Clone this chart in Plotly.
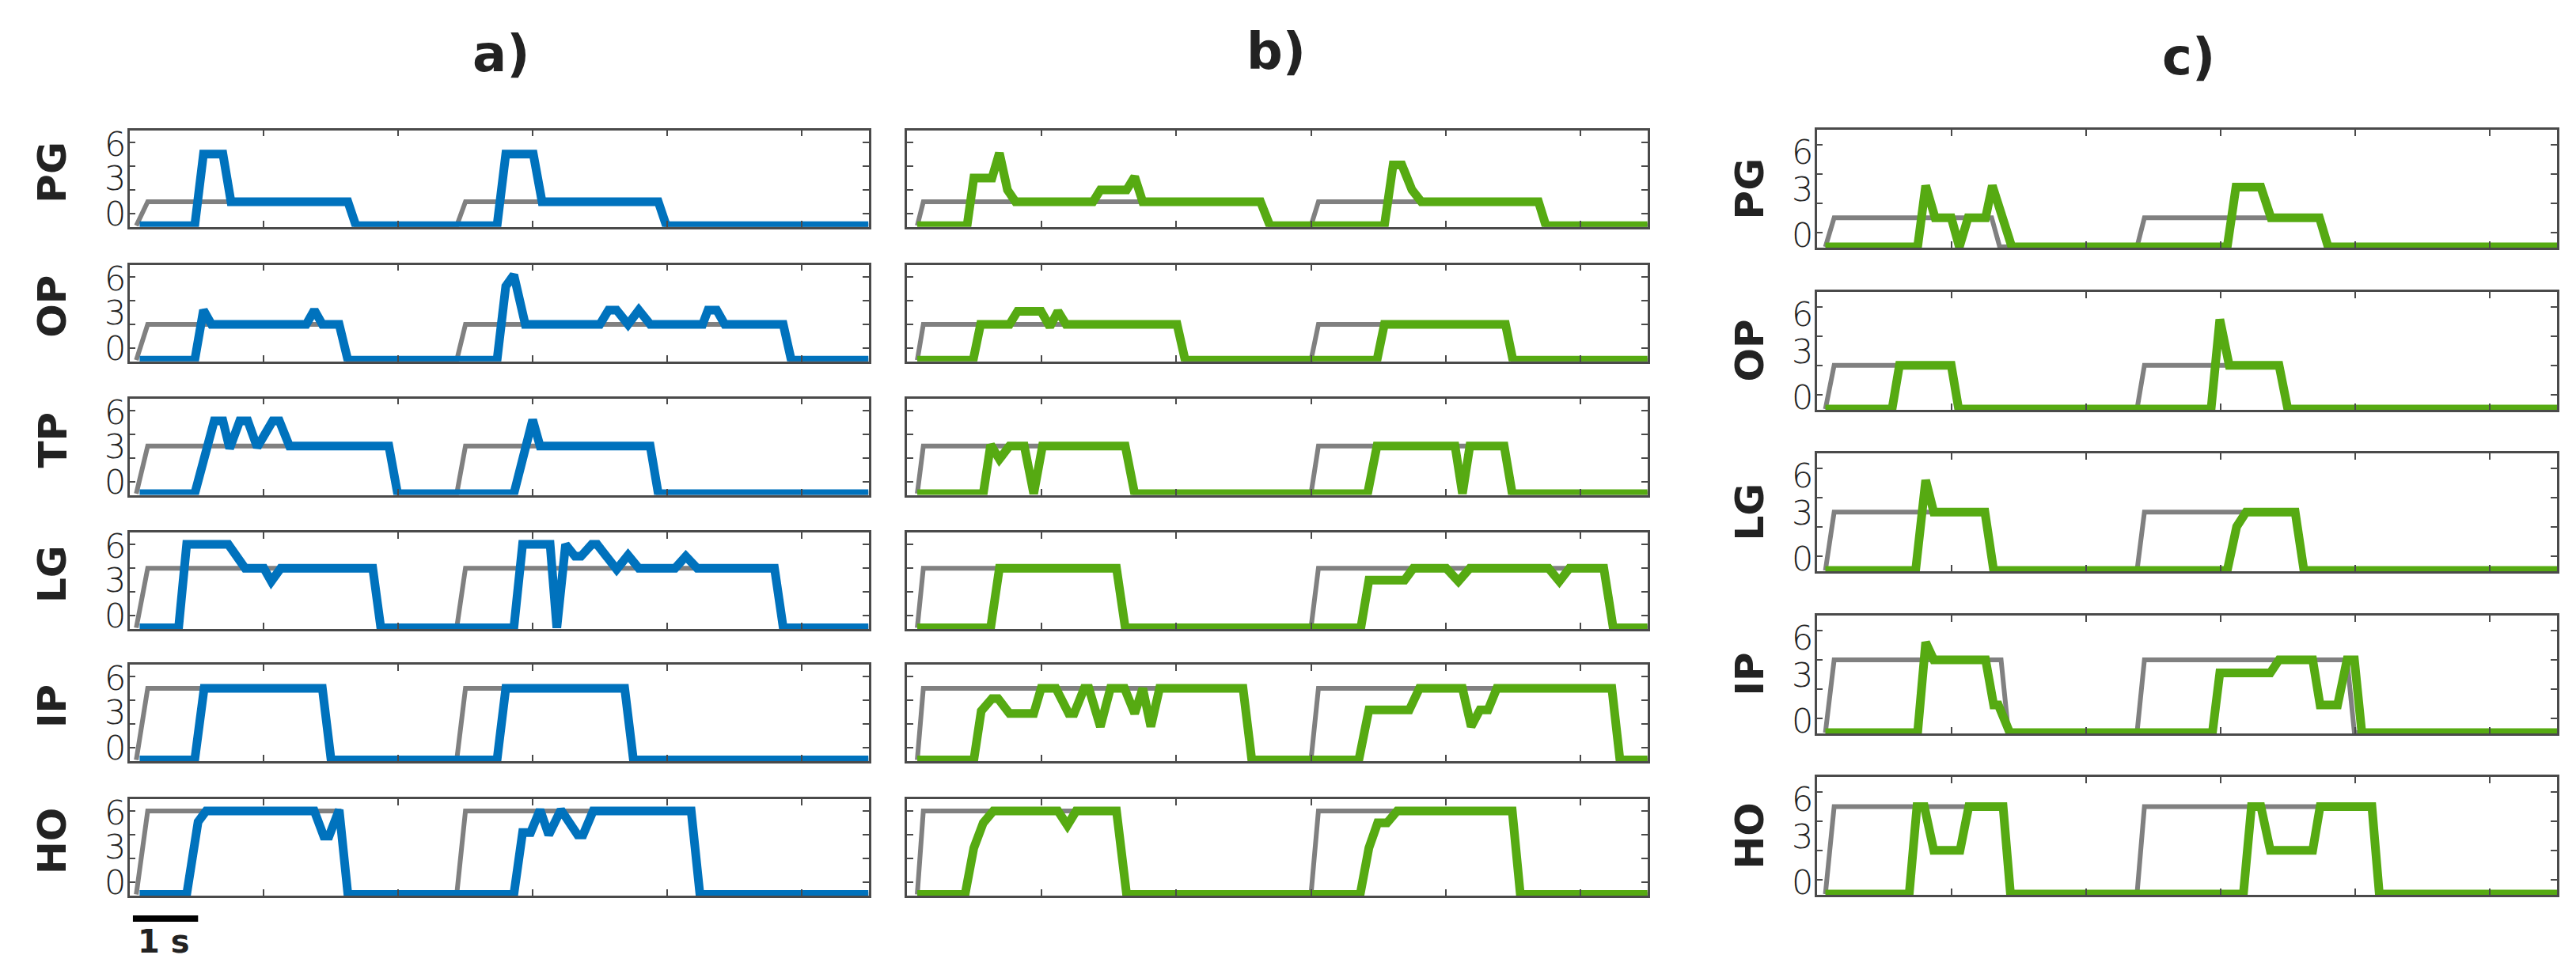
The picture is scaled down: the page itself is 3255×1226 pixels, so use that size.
import plotly.graph_objects as go

# figure size in pixels
W, H = 3255, 1226

# row names per column
rows_ab = ["PG", "OP", "TP", "LG", "IP", "HO"]
rows_c = ["PG", "OP", "LG", "IP", "HO"]
col_titles = ["a)", "b)", "c)"]
y_tick_text = ["0", "3", "6"]
x_ticks = [0, 2, 4, 6, 8, 10]
y_ticks = [0, 2, 4, 6]

# ---------------- column a (blue) ----------------
a_pg_t = [0.15, 0.97, 1.1, 1.39, 1.51, 3.25, 3.37, 5.47, 5.6, 6.01, 6.14, 7.87, 7.99, 11]
a_pg_v = [-1, -1, 5, 5, 1, 1, -1, -1, 5, 5, 1, 1, -1, -1]
a_op_t = [0.15, 0.97, 1.1, 1.22, 2.63, 2.75, 2.87, 3.12, 3.25, 5.47, 5.6, 5.72, 5.89, 7.0, 7.13,
          7.25, 7.42, 7.58, 7.75, 8.53, 8.61, 8.74, 8.86, 9.73, 9.85, 11]
a_op_v = [-1, -1, 3.2, 2, 2, 3.2, 2, 2, -1, -1, 5.2, 6.15, 2, 2, 3.2,
          3.2, 2, 3.2, 2, 2, 3.2, 3.2, 2, 2, -1, -1]
a_tp_t = [0.15, 0.97, 1.26, 1.39, 1.49, 1.64, 1.76, 1.9, 2.13, 2.23, 2.38, 3.86, 3.99, 5.72, 6.0,
          6.11, 7.75, 7.87, 11]
a_tp_v = [-1, -1, 5.1, 5.1, 2.8, 5.1, 5.1, 2.9, 5.1, 5.1, 3, 3, -1, -1, 5.2, 3, 3, -1, -1]
a_lg_t = [0.15, 0.73, 0.85, 1.47, 1.72, 2.0, 2.11, 2.25, 3.62, 3.74, 5.72, 5.85, 6.26, 6.36, 6.49,
          6.63, 6.72, 6.88, 6.96, 7.25, 7.42, 7.58, 8.12, 8.28, 8.45, 9.6, 9.73, 11]
a_lg_v = [-1, -1, 6, 6, 4, 4, 2.9, 4, 4, -1, -1, 6, 6, -1, 6,
          5, 5, 6, 6, 3.9, 5.1, 4, 4, 5, 4, 4, -1, -1]
a_ip_t = [0.15, 0.97, 1.11, 2.87, 3.0, 5.47, 5.6, 7.37, 7.5, 11]
a_ip_v = [-1, -1, 5, 5, -1, -1, 5, 5, -1, -1]
a_ho_t = [0.15, 0.85, 1.02, 1.14, 2.75, 2.89, 2.97, 3.12, 3.25, 5.72, 5.85, 5.97, 6.11, 6.24, 6.42,
          6.67, 6.75, 6.9, 8.36, 8.49, 11]
a_ho_v = [-1, -1, 5.1, 6, 6, 3.9, 3.9, 6.1, -1, -1, 4.2, 4.2, 6.1, 4, 6.1, 4, 4, 6, 6, -1, -1]

# reference (gray) signals, column a
a_pg_gt = [0.1, 0.27, 3.25, 3.37, 4.87, 5.0, 7.87, 7.99, 11]
a_pg_gv = [-1, 1, 1, -1, -1, 1, 1, -1, -1]
a_op_gt = [0.1, 0.27, 3.12, 3.25, 4.87, 5.0, 9.73, 9.85, 11]
a_op_gv = [-1, 2, 2, -1, -1, 2, 2, -1, -1]
a_tp_gt = [0.1, 0.27, 3.86, 3.99, 4.87, 5.0, 7.75, 7.87, 11]
a_tp_gv = [-1, 3, 3, -1, -1, 3, 3, -1, -1]
a_lg_gt = [0.1, 0.27, 3.62, 3.74, 4.87, 5.0, 9.6, 9.73, 11]
a_lg_gv = [-1, 4, 4, -1, -1, 4, 4, -1, -1]
a_ip_gt = [0.1, 0.27, 2.87, 3.0, 4.87, 5.0, 7.37, 7.5, 11]
a_ip_gv = [-1, 5, 5, -1, -1, 5, 5, -1, -1]
a_ho_gt = [0.1, 0.27, 3.12, 3.25, 4.87, 5.0, 8.36, 8.49, 11]
a_ho_gv = [-1, 6, 6, -1, -1, 6, 6, -1, -1]

# ---------------- column b (green) ----------------
b_pg_t = [0.15, 0.89, 0.99, 1.26, 1.37, 1.49, 1.61, 2.76, 2.87, 3.26, 3.38, 3.5, 5.25, 5.39, 7.09,
          7.22, 7.35, 7.5, 7.64, 9.38, 9.49, 11]
b_pg_v = [-1, -1, 3, 3, 5.1, 2, 1, 1, 2, 2, 3.1, 1, 1, -1, -1, 4.1, 4.1, 2, 1, 1, -1, -1]
b_op_t = [0.15, 0.98, 1.09, 1.52, 1.64, 1.99, 2.12, 2.24, 2.36, 4.01, 4.13, 6.98, 7.09, 8.89, 9.0, 11]
b_op_v = [-1, -1, 2, 2, 3.1, 3.1, 1.8, 3.1, 2, 2, -1, -1, 2, 2, -1, -1]
b_tp_t = [0.15, 1.13, 1.24, 1.37, 1.52, 1.74, 1.88, 2.01, 3.24, 3.38, 6.84, 6.98, 8.14, 8.25, 8.36,
          8.87, 8.99, 11]
b_tp_v = [-1, -1, 3.1, 1.9, 3, 3, -1, 3, 3, -1, -1, 3, 3, -1, 3, 3, -1, -1]
b_lg_t = [0.15, 1.24, 1.37, 3.11, 3.24, 6.74, 6.86, 7.39, 7.52, 8.01, 8.19, 8.36, 9.53, 9.69, 9.84,
          10.35, 10.49, 11]
b_lg_v = [-1, -1, 4, 4, -1, -1, 3, 3, 4, 4, 2.9, 4, 4, 2.9, 4, 4, -1, -1]
b_ip_t = [0.15, 0.99, 1.1, 1.26, 1.35, 1.52, 1.88, 1.99, 2.21, 2.4, 2.48, 2.63, 2.7, 2.87, 3.02,
          3.23, 3.38, 3.5, 3.62, 3.75, 4.99, 5.12, 6.71, 6.86, 7.46, 7.61, 8.25, 8.38, 8.51, 8.63,
          8.76, 10.47, 10.59, 11]
b_ip_v = [-1, -1, 3.1, 4.15, 4.15, 2.9, 2.9, 5, 5, 2.9, 2.9, 5, 5, 1.8, 5,
          5, 2.9, 5, 1.8, 5, 5, -1, -1, 3.2, 3.2, 5, 5, 1.8, 3.2, 3.2,
          5, 5, -1, -1]
b_ho_t = [0.15, 0.86, 0.99, 1.13, 1.28, 2.24, 2.38, 2.51, 3.11, 3.26, 6.73, 6.86, 6.99, 7.13, 7.28,
          8.99, 9.11, 11]
b_ho_v = [-1, -1, 2.9, 5, 6, 6, 4.8, 6, 6, -1, -1, 2.9, 5, 5, 6, 6, -1, -1]

# reference (gray) signals, column b
b_pg_gt = [0.15, 0.24, 5.25, 5.39, 6.0, 6.11, 9.38, 9.49, 11]
b_pg_gv = [-1, 1, 1, -1, -1, 1, 1, -1, -1]
b_op_gt = [0.15, 0.24, 4.01, 4.13, 6.0, 6.11, 8.89, 9.0, 11]
b_op_gv = [-1, 2, 2, -1, -1, 2, 2, -1, -1]
b_tp_gt = [0.15, 0.24, 3.24, 3.38, 6.0, 6.11, 8.87, 8.99, 11]
b_tp_gv = [-1, 3, 3, -1, -1, 3, 3, -1, -1]
b_lg_gt = [0.15, 0.24, 3.11, 3.24, 6.0, 6.11, 10.35, 10.49, 11]
b_lg_gv = [-1, 4, 4, -1, -1, 4, 4, -1, -1]
b_ip_gt = [0.15, 0.24, 4.99, 5.12, 6.0, 6.11, 10.47, 10.59, 11]
b_ip_gv = [-1, 5, 5, -1, -1, 5, 5, -1, -1]
b_ho_gt = [0.15, 0.24, 3.11, 3.26, 6.0, 6.11, 8.99, 9.11, 11]
b_ho_gv = [-1, 6, 6, -1, -1, 6, 6, -1, -1]

# ---------------- column c (green) ----------------
c_pg_t = [0.13, 1.5, 1.62, 1.76, 2.0, 2.12, 2.25, 2.51, 2.61, 2.9, 6.1, 6.23, 6.6, 6.75, 7.47, 7.6, 11]
c_pg_v = [-1, -1, 3.2, 1, 1, -1, 1, 1, 3.2, -1, -1, 3.1, 3.1, 1, 1, -1, -1]
c_op_t = [0.13, 1.12, 1.23, 2.0, 2.11, 5.86, 5.99, 6.13, 6.87, 7.0, 11]
c_op_v = [-1, -1, 2, 2, -1, -1, 5.15, 2, 2, -1, -1]
c_lg_t = [0.13, 1.47, 1.62, 1.74, 2.5, 2.63, 6.1, 6.24, 6.38, 7.11, 7.24, 11]
c_lg_v = [-1, -1, 5.2, 3, 3, -1, -1, 2, 3, 3, -1, -1]
c_ip_t = [0.13, 1.5, 1.62, 1.74, 2.51, 2.63, 2.7, 2.87, 5.88, 5.99, 6.74, 6.87, 7.37, 7.48, 7.74,
          7.88, 7.99, 8.1, 11]
c_ip_v = [-1, -1, 5.2, 4, 4, 0.9, 0.9, -1, -1, 3.1, 3.1, 4, 4, 0.9, 0.9, 4, 4, -1, -1]
c_ho_t = [0.13, 1.375, 1.49, 1.6, 1.74, 2.13, 2.26, 2.77, 2.88, 6.34, 6.46, 6.6, 6.74, 7.37, 7.48,
          8.25, 8.36, 11]
c_ho_v = [-1, -1, 5, 5, 2, 2, 5, 5, -1, -1, 5, 5, 2, 2, 5, 5, -1, -1]

# reference (gray) signals, column c
c_pg_gt = [0.13, 0.26, 2.6, 2.72, 4.76, 4.87, 7.47, 7.6, 11]
c_pg_gv = [-1, 1, 1, -1, -1, 1, 1, -1, -1]
c_op_gt = [0.13, 0.26, 2.0, 2.11, 4.76, 4.87, 6.87, 7.0, 11]
c_op_gv = [-1, 2, 2, -1, -1, 2, 2, -1, -1]
c_lg_gt = [0.13, 0.26, 2.5, 2.63, 4.76, 4.87, 7.11, 7.24, 11]
c_lg_gv = [-1, 3, 3, -1, -1, 3, 3, -1, -1]
c_ip_gt = [0.13, 0.26, 2.74, 2.85, 4.76, 4.87, 7.88, 7.99, 11]
c_ip_gv = [-1, 4, 4, -1, -1, 4, 4, -1, -1]
c_ho_gt = [0.13, 0.26, 2.77, 2.88, 4.76, 4.87, 8.25, 8.36, 11]
c_ho_gv = [-1, 5, 5, -1, -1, 5, 5, -1, -1]

BLUE = "#0072BD"
GREEN = "#56AA12"
GRAY = "#808080"
FRAME = "#4a4a4a"

panels_a = [(a_pg_gt, a_pg_gv, a_pg_t, a_pg_v), (a_op_gt, a_op_gv, a_op_t, a_op_v),
            (a_tp_gt, a_tp_gv, a_tp_t, a_tp_v), (a_lg_gt, a_lg_gv, a_lg_t, a_lg_v),
            (a_ip_gt, a_ip_gv, a_ip_t, a_ip_v), (a_ho_gt, a_ho_gv, a_ho_t, a_ho_v)]
panels_b = [(b_pg_gt, b_pg_gv, b_pg_t, b_pg_v), (b_op_gt, b_op_gv, b_op_t, b_op_v),
            (b_tp_gt, b_tp_gv, b_tp_t, b_tp_v), (b_lg_gt, b_lg_gv, b_lg_t, b_lg_v),
            (b_ip_gt, b_ip_gv, b_ip_t, b_ip_v), (b_ho_gt, b_ho_gv, b_ho_t, b_ho_v)]
panels_c = [(c_pg_gt, c_pg_gv, c_pg_t, c_pg_v), (c_op_gt, c_op_gv, c_op_t, c_op_v),
            (c_lg_gt, c_lg_gv, c_lg_t, c_lg_v), (c_ip_gt, c_ip_gv, c_ip_t, c_ip_v),
            (c_ho_gt, c_ho_gv, c_ho_t, c_ho_v)]

# pixel geometry of the panels
col_x = [(155.7, 1089.5), (1138.3, 2073.8), (2287.5, 3223.0)]
tops_ab = [156.7, 326.7, 495.5, 665.0, 832.0, 1002.0]
h_ab = 122.0
tops_c = [156.0, 361.0, 565.0, 770.0, 974.0]
h_c = 149.0


def px_x(p):
    return p / W


def px_y(p):
    return 1 - p / H


fig = go.Figure()
annotations = []
shapes = []
k = 0

columns = [
    (panels_a, rows_ab, tops_ab, h_ab, BLUE, [-1.1, 7.0], [0, 3, 5.85], True),
    (panels_b, rows_ab, tops_ab, h_ab, GREEN, [-1.1, 7.0], None, False),
    (panels_c, rows_c, tops_c, h_c, GREEN, [-1.05, 7.03], [-0.2, 2.95, 5.5], True),
]

for ci, (panels, names, tops, hh, color, yr, lab_pos, show_labels) in enumerate(columns):
    x0, x1 = col_x[ci]
    for ri, (gt, gv, ct, cv) in enumerate(panels):
        k += 1
        sfx = "" if k == 1 else str(k)
        top = tops[ri]
        bot = top + hh
        fig.add_trace(go.Scatter(x=gt, y=gv, mode="lines", line=dict(color=GRAY, width=6),
                                 xaxis="x" + sfx, yaxis="y" + sfx, showlegend=False))
        fig.add_trace(go.Scatter(x=ct, y=cv, mode="lines", line=dict(color=color, width=11),
                                 xaxis="x" + sfx, yaxis="y" + sfx, showlegend=False))
        fig.layout["xaxis" + sfx] = dict(
            domain=[px_x(x0), px_x(x1)], anchor="y" + sfx, range=[0, 11],
            tickvals=x_ticks, ticks="inside", ticklen=8, tickwidth=2, tickcolor=FRAME,
            showticklabels=False, showgrid=False, zeroline=False,
            showline=True, linecolor=FRAME, linewidth=2.5, mirror="ticks")
        fig.layout["yaxis" + sfx] = dict(
            domain=[px_y(bot), px_y(top)], anchor="x" + sfx, range=yr,
            tickvals=y_ticks, ticks="inside", ticklen=8, tickwidth=2, tickcolor=FRAME,
            showticklabels=False, showgrid=False, zeroline=False,
            showline=True, linecolor=FRAME, linewidth=2.5, mirror="ticks")
        if show_labels:
            for txt, pos in zip(y_tick_text, lab_pos):
                annotations.append(dict(
                    x=px_x(x0 - 4), xref="paper", xanchor="right",
                    y=pos, yref="y" + sfx, yanchor="middle", text=txt, showarrow=False,
                    height=34, borderpad=0,
                    font=dict(family="DejaVu Sans", size=43, color="#222222", weight=200)))
            lab_x = 58 if ci == 0 else 2202
            lab_y = (top + bot) / 2 - (8 if ci == 0 else 0)
            annotations.append(dict(
                x=px_x(lab_x), xref="paper", y=px_y(lab_y), yref="paper",
                xanchor="center", yanchor="middle", text="<b>" + names[ri] + "</b>",
                textangle=-90, showarrow=False, borderpad=0,
                font=dict(family="DejaVu Sans", size=50, color="#222222")))
        if ci == 0 and ri == len(panels) - 1:
            # 1 s scale bar under column a
            shapes.append(dict(type="line", xref="x" + sfx, yref="paper",
                               x0=0.05, x1=1.02, y0=px_y(1153), y1=px_y(1153),
                               line=dict(color="black", width=8)))
            annotations.append(dict(
                x=px_x(199), xref="paper", y=px_y(1182), yref="paper",
                xanchor="center", yanchor="middle", text="<b>1 s</b>", showarrow=False,
                font=dict(family="DejaVu Sans", size=40, color="#222222")))

# column titles
title_pos = [(625, 60), (1604, 57), (2757, 64)]
for t, (tx, ty) in zip(col_titles, title_pos):
    annotations.append(dict(
        x=px_x(tx), xref="paper", y=px_y(ty), yref="paper",
        xanchor="center", yanchor="middle", text="<b>" + t + "</b>", showarrow=False,
        font=dict(family="DejaVu Sans", size=64, color="#222222")))

fig.update_layout(
    width=W, height=H,
    margin=dict(l=0, r=0, t=0, b=0),
    paper_bgcolor="white", plot_bgcolor="white",
    annotations=annotations, shapes=shapes,
    showlegend=False,
)

fig.write_html("out.html")
